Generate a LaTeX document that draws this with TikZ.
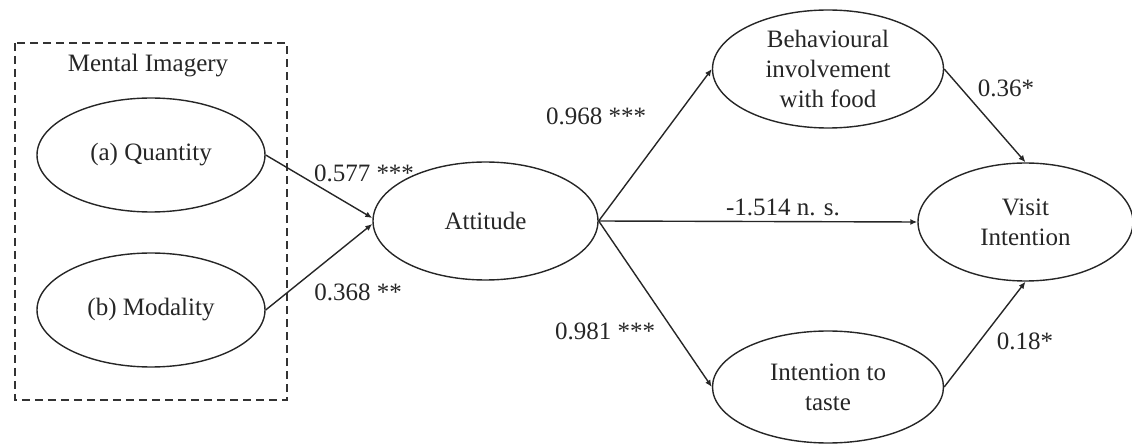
\documentclass[tikz,border=0pt]{standalone}
\usepackage{fontspec}
\setmainfont{Liberation Serif}
\usetikzlibrary{shapes.geometric,arrows.meta}
\begin{document}
\begin{tikzpicture}[x=0.5pt,y=-0.5pt,
  font=\fontsize{12.5}{15}\selectfont,
  every node/.style={text=black!85},
  oval/.style={ellipse,draw=black!85,line width=0.7pt,inner sep=0pt,align=center},
  conn/.style={draw=black!85,line width=0.7pt,-{Latex[length=3.5pt,width=3pt]}},
  lbl/.style={inner sep=0pt,anchor=center}]
\useasboundingbox (0,0) rectangle (1132,444);
\draw[black!80,line width=0.6pt,dash pattern=on 4pt off 2.5pt] (15,43) rectangle (287,400);
\node[lbl] (mi) at (148,66) {Mental Imagery};
\node[oval,minimum width=114pt,minimum height=57pt] (q) at (151,155) {(a) Quantity};
\node[oval,minimum width=114pt,minimum height=57pt] (m) at (151,310) {(b) Modality};
\node[oval,minimum width=112.5pt,minimum height=59pt] (att) at (485.5,221) {Attitude};
\node[oval,minimum width=115.5pt,minimum height=59pt] (beh) at (828,69) {Behavioural\\involvement\\with food};
\node[oval,minimum width=115.5pt,minimum height=56pt] (tas) at (828,387) {Intention to\\taste};
\node[oval,minimum width=107.5pt,minimum height=59pt] (vis) at (1025.5,222) {Visit\\Intention};
\draw[conn] (q.east) -- ([yshift=1.5pt]att.west);
\draw[conn] (m.east) -- ([yshift=-1.5pt]att.west);
\draw[conn] (att.east) -- (beh.west);
\draw[conn] (att.east) -- (tas.west);
\draw[conn] (att.east) -- (vis.west);
\draw[conn] (beh.east) -- (vis.north);
\draw[conn] (tas.east) -- (vis.south);
\node[lbl] (l1) at (364,173) {0.577 ***};
\node[lbl] (l2) at (358,292) {0.368 **};
\node[lbl] (l3) at (596,116) {0.968 ***};
\node[lbl] (l4) at (605,331) {0.981 ***};
\node[lbl] (l5) at (783,207) {-1.514 n. s.};
\node[lbl] (l6) at (1006,88) {0.36*};
\node[lbl] (l7) at (1025,341) {0.18*};
\end{tikzpicture}
\end{document}
